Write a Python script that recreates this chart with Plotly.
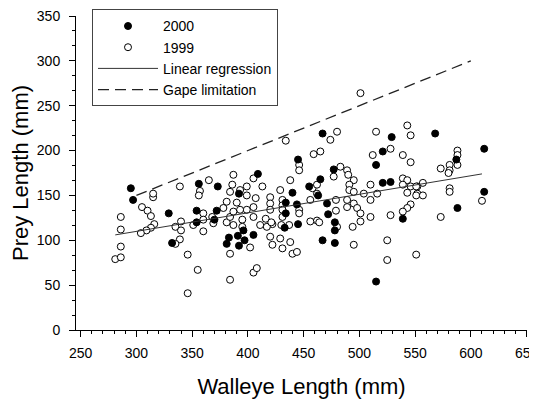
import plotly.graph_objects as go

# ---- data ----
x_2000 = [295, 297, 329, 332, 354, 356, 354, 373, 372, 370, 383, 381, 391, 392, 396, 397, 405, 409,
          392, 433, 434, 434, 440, 445, 444, 445, 455, 463, 465, 467, 467, 471, 472, 477, 478, 478,
          478, 515, 521, 521, 528, 529, 515, 539, 568, 587, 588, 612, 612]
y_2000 = [158, 145, 130, 97, 133, 163, 120, 160, 133, 123, 103, 96, 105, 94, 111, 100, 106, 174,
          152, 114, 142, 130, 153, 190, 140, 118, 160, 150, 168, 219, 100, 141, 129, 179, 120, 111,
          97, 184, 199, 164, 165, 215, 54, 124, 219, 190, 136, 202, 154]

x_1999 = [281, 286, 286, 286, 286, 305, 310, 313, 316, 313, 309, 304, 315, 315, 335, 340, 340, 339,
          335, 339, 346, 346, 355, 357, 356, 360, 360, 360, 351, 365, 368, 369, 378, 381, 381, 384,
          386, 387, 393, 384, 390, 399, 405, 413, 407, 405, 399, 393, 387, 387, 395, 395, 405, 411,
          416, 420, 420, 420, 422, 429, 431, 431, 431, 431, 430, 438, 446, 446, 446, 446, 437, 420,
          429, 422, 431, 438, 440, 444, 402, 384, 384, 405, 408, 434, 399, 417, 421,
          501, 480, 474, 459, 465, 515, 543, 546, 528, 512, 539, 546, 483, 489, 490, 477, 495, 491,
          491, 458, 462, 462, 456, 479, 479, 480, 504, 516, 510, 510, 495, 489, 495, 489, 498, 501,
          501, 494, 510, 528, 495, 525, 525, 551, 539, 543, 539, 546, 543, 552, 552, 546, 543, 539,
          462, 464, 456,
          588, 588, 588, 581, 573, 581, 580, 581, 581, 557, 551, 551, 557, 573, 610]
y_1999 = [79, 81, 93, 112, 126, 137, 133, 127, 118, 114, 111, 108, 148, 152, 115, 121, 111, 101,
          96, 160, 84, 41, 67, 155, 150, 130, 123, 110, 117, 167, 126, 119, 136, 143, 120, 126,
          162, 173, 156, 154, 142, 160, 169, 160, 147, 137, 134, 134, 132, 117, 123, 115, 126, 117,
          124, 148, 141, 134, 118, 156, 145, 139, 134, 126, 117, 167, 184, 178, 134, 130, 117, 104,
          102, 95, 91, 98, 85, 87, 92, 85, 56, 64, 69, 211, 150, 115, 120,
          264, 221, 212, 196, 199, 221, 228, 217, 202, 195, 195, 187, 182, 178, 173, 171, 167, 162,
          156, 158, 162, 152, 145, 145, 133, 115, 152, 152, 162, 145, 154, 145, 141, 137, 136, 130,
          121, 115, 126, 128, 95, 100, 78, 84, 169, 167, 162, 160, 153, 152, 160, 140, 136, 132,
          122, 120, 121,
          200, 195, 184, 184, 180, 178, 175, 158, 154, 164, 160, 150, 150, 126, 144]

reg_x = [281, 610]
reg_y = [106, 174]

gape_x = [300, 600]
gape_y = [150, 300]

x_ticks = [250, 300, 350, 400, 450, 500, 550, 600, 650]
y_ticks = [0, 50, 100, 150, 200, 250, 300, 350]

FONT = "Liberation Sans, Arial, Helvetica, sans-serif"

fig = go.Figure()

fig.add_trace(go.Scatter(
    x=x_1999, y=y_1999, mode="markers", name="1999", legendrank=2,
    marker=dict(symbol="circle", size=7, color="white", line=dict(color="black", width=1)),
))
fig.add_trace(go.Scatter(
    x=x_2000, y=y_2000, mode="markers", name="2000", legendrank=1,
    marker=dict(symbol="circle", size=7, color="black", line=dict(color="black", width=1)),
))
fig.add_trace(go.Scatter(
    x=reg_x, y=reg_y, mode="lines", name="Linear regression", legendrank=3,
    line=dict(color="#333333", width=1),
))
fig.add_trace(go.Scatter(
    x=gape_x, y=gape_y, mode="lines", name="Gape limitation", legendrank=4,
    line=dict(color="#222222", width=1.3, dash="11px,6px"),
))

axis_common = dict(
    showline=True, linecolor="black", linewidth=1,
    ticks="outside", ticklen=6, tickwidth=1, tickcolor="black",
    showgrid=False, zeroline=False, automargin=False,
    ticklabeloverflow="allow",
    tickfont=dict(family=FONT, size=14, color="black"),
)

# The page body adds an 8px offset, so the figure is 8px smaller on each axis
fig.update_layout(
    width=529, height=391,
    margin=dict(l=68, r=10, t=8, b=69, autoexpand=False),
    paper_bgcolor="white", plot_bgcolor="white",
    font=dict(family=FONT, color="black"),
    xaxis=dict(
        range=[245.8, 650.4], tickvals=x_ticks, ticklabelstandoff=4,
        title=dict(text="Walleye Length (mm)", font=dict(family=FONT, size=22), standoff=19),
        minor=dict(ticks="outside", dtick=10, tick0=250, ticklen=3, tickcolor="black"),
        **axis_common,
    ),
    yaxis=dict(
        range=[0, 350], tickvals=y_ticks, ticklabelstandoff=6,
        title=dict(text="Prey Length (mm)", font=dict(family=FONT, size=22), standoff=17),
        minor=dict(ticks="outside", dtick=50 / 3, tick0=0, ticklen=3, tickcolor="black"),
        **axis_common,
    ),
    legend=dict(
        x=0.0355, y=1.021, xanchor="left", yanchor="top",
        bordercolor="#444444", borderwidth=1, bgcolor="white",
        font=dict(family=FONT, size=14, color="black"),
        itemwidth=60,
    ),
    showlegend=True,
)

fig.write_html("out.html")
